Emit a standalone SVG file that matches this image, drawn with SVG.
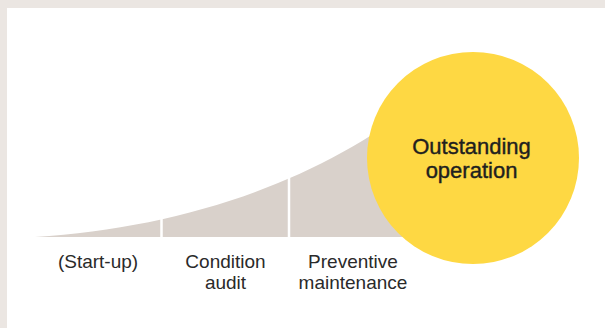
<svg xmlns="http://www.w3.org/2000/svg" width="605" height="328" viewBox="0 0 605 328">
  <style>
    .lbl { font-family: "Liberation Sans", Arial, sans-serif; font-size: 19px; fill: #2a2a2a; text-anchor: middle; }
    .big { font-family: "Liberation Sans", Arial, sans-serif; font-size: 22px; fill: #1f1f1f; stroke: #1f1f1f; stroke-width: 0.4; text-anchor: middle; }
    .div { stroke: #ffffff; stroke-width: 2.5; }
  </style>
  <rect x="0" y="0" width="605" height="328" fill="#ebe6e2"/>
  <rect x="7" y="8" width="598" height="320" fill="#ffffff"/>
  <g id="growth-curve">
    <path d="M35,237 C180,228 320,182 420,100 L420,237 Z" fill="#d9d1cb"/>
  </g>
  <g id="connectors">
    <line class="div" x1="161.5" y1="150" x2="161.5" y2="238"/>
    <line class="div" x1="289" y1="150" x2="289" y2="238"/>
  </g>
  <g id="outstanding-operation">
    <circle cx="473" cy="158" r="106" fill="#fed843"/>
    <text class="big" x="471.5" y="153.5">Outstanding</text>
    <text class="big" x="471.5" y="177.5">operation</text>
  </g>
  <g id="start-up">
    <text class="lbl" x="98" y="268">(Start-up)</text>
  </g>
  <g id="condition-audit">
    <text class="lbl" x="225.5" y="268">Condition</text>
    <text class="lbl" x="225.5" y="289">audit</text>
  </g>
  <g id="preventive-maintenance">
    <text class="lbl" x="353" y="268">Preventive</text>
    <text class="lbl" x="353" y="289">maintenance</text>
  </g>
</svg>
